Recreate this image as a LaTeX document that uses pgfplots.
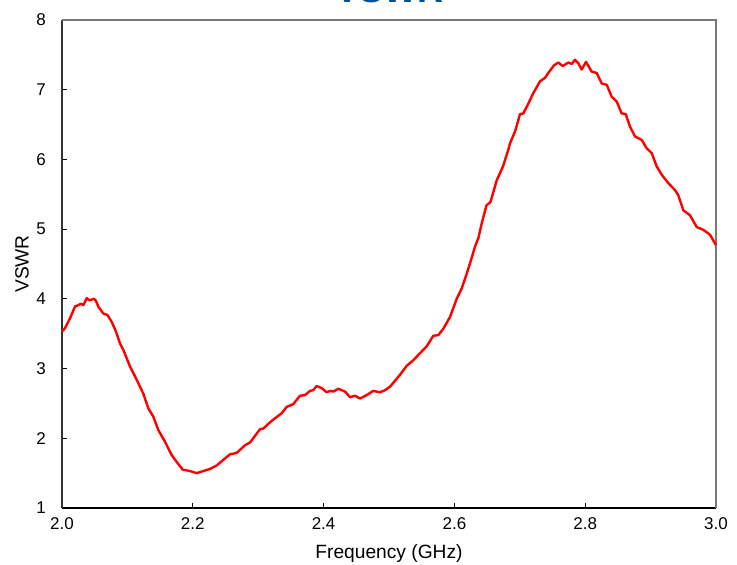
\documentclass[border=0pt]{standalone}
\usepackage{fontspec}
\setmainfont{Liberation Sans}
\usepackage{pgfplots}
\pgfplotsset{compat=1.18}
\definecolor{titleblue}{RGB}{0,82,150}
\definecolor{framegray}{RGB}{120,120,120}
\definecolor{vswrred}{RGB}{255,0,0}

\begin{document}
\begin{tikzpicture}
\begin{axis}[
    scale only axis,
    width=327pt, height=244pt,
    xmin=2, xmax=3, ymin=1, ymax=8,
    xtick={2,2.2,...,3.01}, ytick={1,...,8},
    axis x line*=bottom, axis y line*=left,
    x axis line style={-, black, line width=0.6pt},
    y axis line style={-, black!80, line width=1.1pt},
    tick align=inside, major tick length=2.5pt,
    tick style={black, line width=0.5pt},
    /pgf/number format/assume math mode=true,
    font=\fontsize{8.5}{10}\selectfont,
    xticklabel style={/pgf/number format/fixed, /pgf/number format/fixed zerofill, /pgf/number format/precision=1},
    every x tick label/.append style={yshift=-1.2pt},
    every y tick label/.append style={xshift=-4.5pt},
    xlabel={Frequency (GHz)}, ylabel={VSWR},
    label style={font=\fontsize{9.6}{11}\selectfont},
    xlabel style={at={(axis description cs:0.5,-0.094)}, anchor=center},
    ylabel style={at={(axis description cs:-0.061,0.5)}, anchor=center},
    clip=false,
]
\draw[framegray, line width=0.8pt] (rel axis cs:0,1) -- (rel axis cs:1,1) -- (rel axis cs:1,0);
\addplot[vswrred, line width=1.2pt, line join=round] coordinates {
(2.0000,3.53) (2.0046,3.58) (2.0122,3.72) (2.0199,3.89) (2.0249,3.91)
(2.0286,3.93) (2.0326,3.91) (2.0378,4.01) (2.0417,3.98) (2.0489,4.00)
(2.0520,3.97) (2.0555,3.89) (2.0631,3.79) (2.0693,3.77) (2.0760,3.67)
(2.0826,3.53) (2.0887,3.36) (2.0937,3.27) (2.1040,3.03) (2.1142,2.84)
(2.1243,2.64) (2.1320,2.43) (2.1396,2.31) (2.1472,2.12) (2.1575,1.95)
(2.1677,1.76) (2.1754,1.66) (2.1846,1.55) (2.1957,1.53) (2.2060,1.50)
(2.2160,1.53) (2.2263,1.56) (2.2365,1.61) (2.2466,1.69) (2.2569,1.77)
(2.2671,1.79) (2.2798,1.90) (2.2875,1.94) (2.3028,2.13) (2.3078,2.14)
(2.3206,2.25) (2.3359,2.36) (2.3436,2.45) (2.3537,2.49) (2.3639,2.61)
(2.3716,2.62) (2.3792,2.68) (2.3842,2.69) (2.3894,2.75) (2.3971,2.72)
(2.4047,2.66) (2.4098,2.68) (2.4148,2.67) (2.4225,2.71) (2.4301,2.68)
(2.4327,2.67) (2.4404,2.59) (2.4480,2.61) (2.4557,2.57) (2.4659,2.62)
(2.4760,2.68) (2.4862,2.66) (2.4939,2.69) (2.5015,2.74) (2.5168,2.91)
(2.5271,3.04) (2.5372,3.12) (2.5474,3.22) (2.5577,3.32) (2.5677,3.47)
(2.5754,3.48) (2.5830,3.57) (2.5933,3.74) (2.6035,4.00) (2.6112,4.15)
(2.6188,4.36) (2.6239,4.51) (2.6315,4.75) (2.6366,4.87) (2.6417,5.08)
(2.6490,5.34) (2.6552,5.39) (2.6647,5.70) (2.6743,5.90) (2.6824,6.14)
(2.6850,6.23) (2.6927,6.40) (2.7003,6.65) (2.7054,6.66) (2.7130,6.80)
(2.7206,6.95) (2.7309,7.12) (2.7385,7.17) (2.7436,7.24) (2.7523,7.35)
(2.7589,7.39) (2.7656,7.34) (2.7742,7.39) (2.7794,7.37) (2.7844,7.43)
(2.7894,7.38) (2.7946,7.29) (2.8012,7.40) (2.8099,7.26) (2.8176,7.24)
(2.8252,7.09) (2.8329,7.07) (2.8405,6.90) (2.8482,6.83) (2.8558,6.66)
(2.8619,6.65) (2.8685,6.47) (2.8761,6.33) (2.8864,6.28) (2.8940,6.16)
(2.9017,6.09) (2.9093,5.90) (2.9170,5.78) (2.9271,5.66) (2.9373,5.56)
(2.9422,5.49) (2.9500,5.27) (2.9602,5.20) (2.9705,5.03) (2.9806,4.99)
(2.9908,4.92) (3.0000,4.77)
};
\node[anchor=base, inner sep=0pt, text=titleblue, font=\fontsize{18}{20}\selectfont\bfseries]
  at ([yshift=8.8pt]rel axis cs:0.5,1) {VSWR};
\end{axis}
\pgfresetboundingbox
\path[use as bounding box] (-31pt,-28.5pt) rectangle (337.5pt,254pt);
\end{tikzpicture}
\end{document}
